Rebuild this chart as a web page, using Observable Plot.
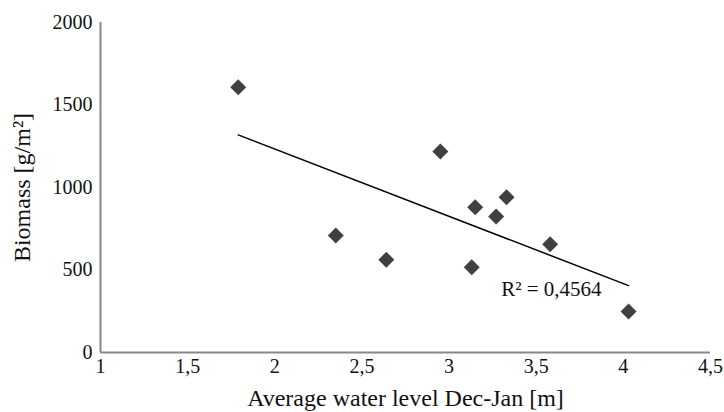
<!DOCTYPE html>
<html>
<head>
<meta charset="utf-8">
<script src="https://cdn.jsdelivr.net/npm/d3@7"></script>
<script src="https://cdn.jsdelivr.net/npm/@observablehq/plot@0.6"></script>
<style>
  html, body { margin: 0; padding: 0; background: #fff; }
  #chart svg { display: block; }
</style>
</head>
<body>
<div id="chart"></div>
<script>
// Average water level Dec-Jan [m]
const waterLevel = [1.79, 2.35, 2.64, 2.95, 3.13, 3.15, 3.27, 3.33, 3.58, 4.03];
// Biomass [g/m²]
const biomass    = [1608, 709, 562, 1218, 517, 881, 824, 941, 656, 248];
const xTicks = [1, 1.5, 2, 2.5, 3, 3.5, 4, 4.5];
const yTicks = [0, 500, 1000, 1500, 2000];
const xTitle = "Average water level Dec-Jan [m]";
const yTitle = "Biomass [g/m²]";
const r2Label = "R² = 0,4564";

const data = waterLevel.map((x, i) => ({x, y: biomass[i]}));
const comma = d => String(d).replace(".", ",");

// end point of the trend line, for anchoring the R² label
const mx = d3.mean(data, d => d.x), my = d3.mean(data, d => d.y);
const slope = d3.sum(data, d => (d.x - mx) * (d.y - my)) / d3.sum(data, d => (d.x - mx) ** 2);
const xEnd = d3.max(data, d => d.x);
const labelAt = [{x: xEnd, y: my + slope * (xEnd - mx)}];

const font = "'Liberation Serif', 'Times New Roman', serif";

const chart = Plot.plot({
  width: 724,
  height: 412,
  marginLeft: 100,
  marginRight: 14,
  marginTop: 22,
  marginBottom: 60,
  style: {fontFamily: font, fontSize: "20px", color: "#111", background: "#fff"},
  x: {domain: [1, 4.5]},
  y: {domain: [0, 2000]},
  marks: [
    Plot.axisX({ticks: xTicks, tickFormat: comma, tickSize: 0, tickPadding: 6, fontSize: 20, label: null}),
    Plot.axisX({ticks: [], label: xTitle, labelAnchor: "center", labelOffset: 53, labelArrow: "none", fontSize: 24}),
    Plot.axisY({ticks: yTicks, tickFormat: d => String(d), tickSize: 0, tickPadding: 8, fontSize: 20, label: null}),
    Plot.axisY({ticks: [], label: yTitle, labelAnchor: "center", labelOffset: 88, labelArrow: "none", fontSize: 24}),
    Plot.ruleX([1], {stroke: "#888", strokeWidth: 2}),
    Plot.ruleY([0], {stroke: "#888", strokeWidth: 2}),
    Plot.linearRegressionY(data, {x: "x", y: "y", ci: 0, stroke: "#000", strokeWidth: 1.5}),
    Plot.dot(data, {x: "x", y: "y", symbol: "diamond2", r: 7.2, fill: "#404040", stroke: "none"}),
    Plot.text(labelAt, {x: "x", y: "y", text: () => r2Label, textAnchor: "end", lineAnchor: "top",
      dx: -27, dy: -5, fontSize: 21, fill: "#111"})
  ]
});
document.getElementById("chart").append(chart);
</script>
</body>
</html>
